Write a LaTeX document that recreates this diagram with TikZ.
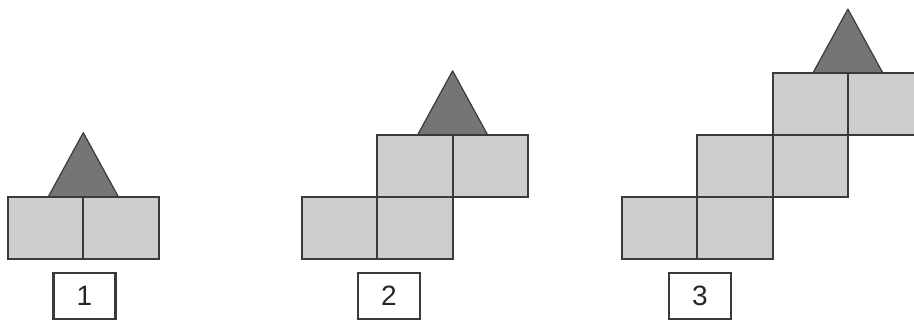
\documentclass[tikz,border=0pt]{standalone}
\usepackage{fontspec}
\setmainfont{Liberation Sans}
\definecolor{tile}{HTML}{CDCED0}
\definecolor{roof}{HTML}{747577}
\definecolor{edge}{HTML}{3A3A3A}
\tikzset{
  tilefill/.style={fill=tile},
  tileedge/.style={draw=edge, line width=2pt},
  roofshape/.style={fill=roof, draw=edge, line width=1.2pt, line join=round},
  stagelabel/.style={draw=edge, line width=2.4pt, fill=white, minimum width=62pt,
    minimum height=46pt, inner sep=0pt, font=\fontsize{28}{28}\selectfont, text=black!85}
}
% tile corners (lower-left x, lower-left y) for all three stages
\newcommand{\tilelist}{8/258.5, 83.3/258.5,
  302/258.5, 377.3/258.5, 377.3/196.7, 452.6/196.7,
  622/258.5, 697.3/258.5, 697.3/196.7, 772.6/196.7, 772.6/134.9, 847.9/134.9}
\newcommand{\roofat}[2]{\path[roofshape] (#1-35,#2) -- (#1,#2-64) -- (#1+35,#2) -- cycle;}
\begin{document}
\begin{tikzpicture}[x=1pt,y=-1pt]
  \useasboundingbox (0,0) rectangle (914,322);
  \clip (0,0) rectangle (914,322);
  % roofs
  \roofat{83.3}{196.7}
  \roofat{452.6}{134.9}
  \roofat{847.9}{73.1}
  % tile fills, then tile outlines
  \foreach \tx/\ty in \tilelist
    \path[tilefill] (\tx,\ty) rectangle ++(75.3,-61.8);
  \foreach \tx/\ty in \tilelist
    \path[tileedge] (\tx,\ty) rectangle ++(75.3,-61.8);
  % stage labels
  \node[stagelabel] (s1) at (84.5,296) {1};
  \node[stagelabel] (s2) at (389,296) {2};
  \node[stagelabel] (s3) at (700,296) {3};
\end{tikzpicture}
\end{document}
